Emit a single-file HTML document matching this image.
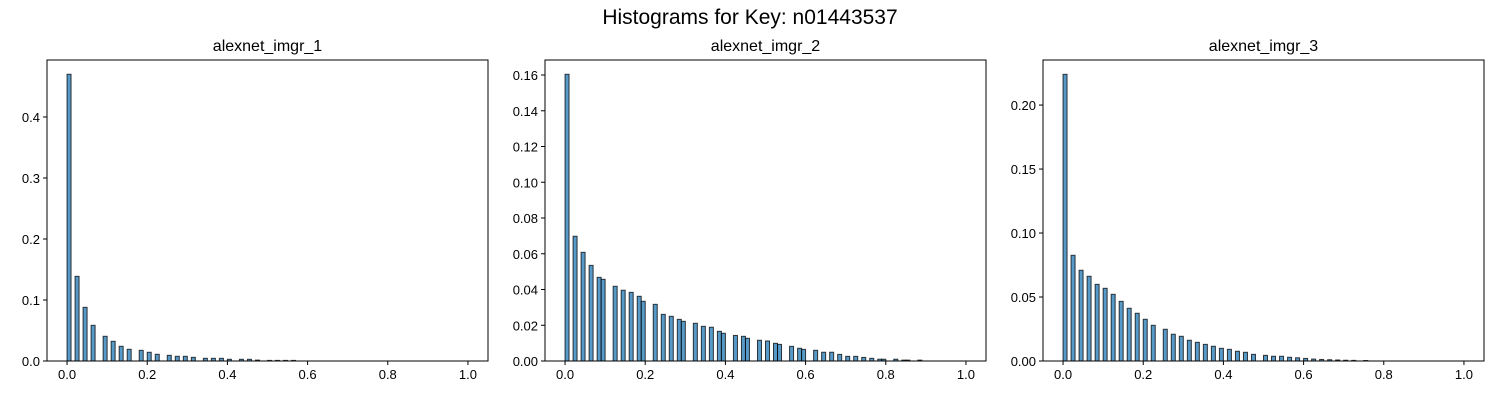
<!DOCTYPE html>
<html><head><meta charset="utf-8"><style>
body{margin:0;background:#fff;}
svg{display:block;font-family:"Liberation Sans","DejaVu Sans",sans-serif;}
</style></head><body>
<svg id="fig" width="1500" height="400">
<text x="750" y="24" text-anchor="middle" font-size="21" fill="#000">Histograms for Key: n01443537</text>
</svg>
<script>
// bin indices (bin width 0.01) and heights per panel
const titles = ["alexnet_imgr_1","alexnet_imgr_2","alexnet_imgr_3"];
const bins1 = [0,2,4,6,9,11,13,15,18,20,22,25,27,29,31,34,36,38,40,43,45,47,50,52,54,56];
const vals1 = [0.47,0.1388,0.088,0.0585,0.0405,0.0323,0.0241,0.0192,0.0175,0.0143,0.011,0.0093,0.0077,0.0077,0.006,0.0044,0.0044,0.0044,0.0028,0.0028,0.0028,0.0015,0.001,0.001,0.001,0.001];
const bins2 = [0,2,4,6,8,9,12,14,16,18,19,22,24,26,28,29,32,34,36,38,39,42,44,45,48,50,52,53,56,58,59,62,64,66,68,70,72,74,76,78,79,82,84,85,88];
const vals2 = [0.1604,0.0698,0.0608,0.0535,0.0468,0.0457,0.0418,0.0396,0.0384,0.0362,0.0334,0.0317,0.0261,0.025,0.0233,0.0222,0.0211,0.0194,0.0189,0.0166,0.0155,0.0143,0.0138,0.0127,0.0116,0.0112,0.0099,0.0093,0.0082,0.0071,0.0065,0.006,0.0049,0.0049,0.0037,0.0026,0.0026,0.002,0.0015,0.001,0.001,0.001,0.0005,0.0005,0.0005];
const bins3 = [0,2,4,6,8,10,12,14,16,18,20,22,25,27,29,31,33,35,37,39,41,43,45,47,50,52,54,56,58,60,62,64,66,68,70,72,75];
const vals3 = [0.224,0.0826,0.0709,0.0662,0.0599,0.0568,0.0521,0.0466,0.0412,0.0373,0.0326,0.0279,0.0248,0.0209,0.0193,0.0162,0.0146,0.013,0.0115,0.0099,0.0091,0.0076,0.0068,0.0052,0.0044,0.0037,0.0037,0.0029,0.0025,0.002,0.0015,0.0012,0.001,0.0008,0.0006,0.0005,0.0004];
const ymaxs = [0.4934,0.1684,0.2352];
const yticks1 = ["0.0","0.1","0.2","0.3","0.4"];
const yticks2 = ["0.00","0.02","0.04","0.06","0.08","0.10","0.12","0.14","0.16"];
const yticks3 = ["0.00","0.05","0.10","0.15","0.20"];
const xticks = ["0.0","0.2","0.4","0.6","0.8","1.0"];

const NS="http://www.w3.org/2000/svg";
const svg=document.getElementById('fig');
function mk(tag,attrs,parent){const e=document.createElementNS(NS,tag);for(const k in attrs)e.setAttribute(k,attrs[k]);parent.appendChild(e);return e;}
const lefts=[47,545,1043], W=441, axTop=60, axBot=361;
const allBins=[bins1,bins2,bins3], allVals=[vals1,vals2,vals3], allYt=[yticks1,yticks2,yticks3];
for(let p=0;p<3;p++){
  const L=lefts[p];
  const g=mk('g',{},svg);
  
  
  const xs=v=>L+(v+0.05)/1.1*W;
  const ys=v=>axBot-v/ymaxs[p]*(axBot-axTop);
  const t=mk('text',{x:L+W/2,y:51,'text-anchor':'middle','font-size':'16'},g);
  t.textContent=titles[p];
  
  
  const bins=allBins[p], vals=allVals[p];
  for(let i=0;i<bins.length;i++){
    const x0=xs(bins[i]*0.01), x1=xs(bins[i]*0.01+0.01);
    const r=mk('rect',{x:x0,y:ys(vals[i]),width:x1-x0,height:axBot-ys(vals[i]),fill:'rgba(31,119,180,0.75)',stroke:'rgba(0,0,0,0.75)','stroke-width':1},g);
    
    
  }
  mk('rect',{x:L,y:axTop,width:W,height:axBot-axTop,fill:'none',stroke:'#000','stroke-width':1},g);
  xticks.forEach(s=>{
    const x=xs(parseFloat(s));
    mk('line',{x1:x,x2:x,y1:axBot,y2:axBot+4,stroke:'#000'},g);
    const tt=mk('text',{x:x,y:axBot+18,'text-anchor':'middle','font-size':'13'},g);
    tt.textContent=s;
    
    
  });
  allYt[p].forEach(s=>{
    const y=ys(parseFloat(s));
    mk('line',{x1:L-4,x2:L,y1:y,y2:y,stroke:'#000'},g);
    const tt=mk('text',{x:L-7,y:y+5,'text-anchor':'end','font-size':'13'},g);
    tt.textContent=s;
    
    
  });
}
</script>
</body></html>
